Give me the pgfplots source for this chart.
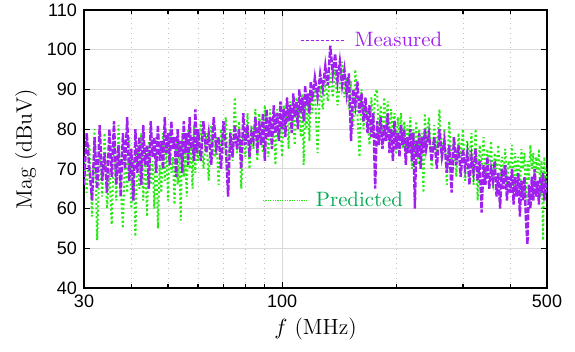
\documentclass[border=0pt]{standalone}
\usepackage{pgfplots}
\pgfplotsset{compat=1.18}
\usepackage{pgfplotstable}
\usepackage{fontspec}
\setsansfont{Liberation Sans}
\definecolor{meas}{RGB}{160,32,240}
\definecolor{pred}{RGB}{40,235,20}
\definecolor{predtxt}{RGB}{0,170,80}
\pgfplotstableread{
f meas pred
30 66 72
30.5 79 64
31 70 76
31.5 62 58
32 78 80
32.5 65 52
33 81 74
33.5 67 63
34 74 79
34.5 64 60
35 80 70
35.5 68 56
36 82 77
36.5 66 62
37 76 81
37.5 63 66
38 79 55
38.5 70 75
39 83 64
39.5 67 78
40 75 60
40.5 62 72
41 80 53
41.5 69 76
42 78 65
42.5 66 79
43 81 62
43.5 71 74
44 76 58
44.5 65 77
45 82 66
45.5 73 72
46 78 60
46.5 69 78
47 81 55
47.5 72 71
48 77 64
48.5 70 79
49 83 67
49.5 74 75
50 79 62
50.5 71 80
51 82 69
51.5 75 73
52 78 61
52.5 68 78
53 80 66
53.5 73 76
54 77 57
54.5 69 79
55 82 68
55.5 74 74
56 79 63
56.5 71 80
57 83 70
57.5 75 76
58 78 65
58.5 72 81
59 85 69
59.5 74 77
60 80 72
61 72 82
62 82 70
63 74 79
64 79 67
65 71 81
66 83 73
67 75 78
68 78 66
69 70 80
70 82 74
71 76 83
72 63 69
73 79 80
74 73 72
75 81 88
76 75 74
77 80 82
78 70 65
79 84 79
80 76 73
81 81 84
82 73 70
83 79 81
84 77 75
85 83 85
86 74 72
87 82 84
88 76 78
89 84 74
90 72 86
91 85 79
92 78 73
93 83 85
94 75 76
95 86 82
96 79 71
97 84 85
98 77 78
99 87 80
100 80 73
101 85 86
102 78 79
103 88 84
104 82 75
105 86 87
106 79 80
107 89 83
108 83 76
109 87 88
110 80 82
111 90 86
112 84 78
113 88 89
114 82 71
115 91 87
116 86 80
117 89 88
118 84 77
119 92 89
120 87 84
122 93 90
124 88 74
126 94 91
128 90 85
130 96 92
132 91 87
134 101 94
136 94 88
138 99 95
140 92 86
142 97 91
144 91 97
146 95 88
148 89 93
150 94 85
152 77 92
154 90 80
156 86 95
158 92 84
160 84 73
162 89 90
164 82 80
166 88 86
168 79 83
170 86 76
172 78 88
174 84 79
176 65 89
178 82 90
180 76 78
182 83 86
184 75 77
186 81 88
188 77 80
190 84 87
192 74 76
194 80 85
196 72 79
198 82 84
200 75 74
202 79 83
204 73 78
206 81 84
208 76 75
210 80 82
212 71 73
214 78 81
216 74 77
218 80 83
220 72 70
222 79 80
224 60 74
226 77 82
228 73 71
230 79 80
232 70 76
234 78 79
236 74 64
238 80 84
240 75 77
244 79 83
248 72 70
252 78 81
256 70 74
260 80 85
264 73 72
268 77 80
272 69 66
276 76 82
280 64 71
284 78 78
288 71 68
292 76 79
296 68 73
300 75 80
304 70 67
308 74 77
312 66 72
316 73 79
320 69 66
324 75 80
328 67 62
332 72 76
336 59 70
340 71 78
344 66 68
348 73 75
352 65 71
356 70 77
360 67 65
364 72 74
368 63 70
372 69 76
376 60 67
380 70 73
384 65 69
388 71 75
392 62 66
396 68 72
400 64 70
404 70 76
408 61 65
412 68 74
416 63 68
420 69 73
424 58 64
428 67 75
432 62 70
436 68 74
440 57 62
444 51 72
448 66 67
452 60 76
456 68 70
460 62 74
464 70 66
468 63 73
472 67 69
476 61 75
480 68 63
484 64 72
488 69 52
492 62 73
496 66 64
500 64 70
}\datatable
\begin{document}
\begin{tikzpicture}
\useasboundingbox (-42pt,-32pt) rectangle (245.5pt,144pt);
\begin{axis}[
  at={(0pt,0pt)}, anchor=south west,
  scale only axis,
  width=231.5pt, height=139pt,
  xmode=log, xmin=30, xmax=500, ymin=40, ymax=110,
  xtick={30,100,500}, xticklabels={30,100,500},
  minor xtick={40,50,60,70,80,90,200,300,400},
  ytick={40,50,...,110},
  grid=both,
  major grid style={line width=0.5pt, draw=black!15},
  minor grid style={line width=0.4pt, draw=black!25, dotted},
  axis line style={line width=0.8pt, black},
  tick style={line width=0.6pt, black},
  major tick length=3pt, minor tick length=2pt,
  tick label style={font=\sffamily\fontsize{9}{10}\selectfont},
  /pgf/number format/assume math mode=true,
  xlabel={$f$ (MHz)}, ylabel={Mag (dBuV)},
  label style={font=\fontsize{11}{12}\selectfont},
  xlabel style={yshift=2pt},
  ylabel style={yshift=-2pt},
  clip=true,
]
\addplot[pred, line width=1pt, dash pattern=on 1pt off 1.2pt] table[x=f, y=pred] {\datatable};
\addplot[meas, line width=1.2pt, dash pattern=on 3pt off 0.8pt] table[x=f, y=meas] {\datatable};
\draw[meas, line width=0.6pt, dash pattern=on 1.5pt off 1pt] (axis cs:112,102.4) -- (axis cs:146,102.4);
\node[anchor=west, text=meas, inner sep=0pt] at (axis cs:155,102.6) {\rmfamily\fontsize{10.4}{12}\selectfont Measured};
\draw[pred, line width=0.6pt, dash pattern=on 0.6pt off 0.6pt] (axis cs:89,62.1) -- (axis cs:116,62.1);
\node[anchor=west, text=predtxt, inner sep=0pt] at (axis cs:122.5,62.3) {\rmfamily\fontsize{10.4}{12}\selectfont Predicted};
\end{axis}
\end{tikzpicture}
\end{document}
